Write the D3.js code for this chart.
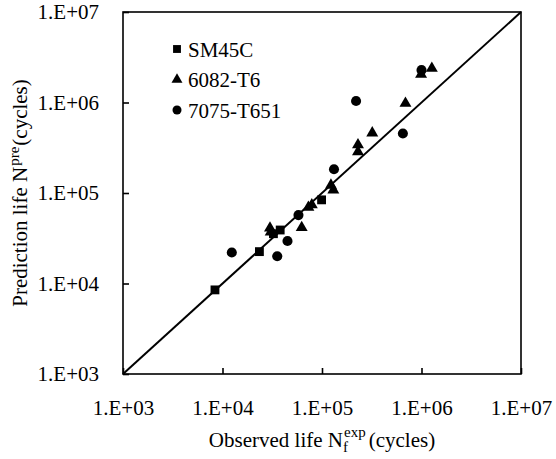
<!DOCTYPE html>
<html>
<head>
<meta charset="utf-8">
<script src="https://cdn.jsdelivr.net/npm/d3@7"></script>
<style>
  body { margin: 0; background: #fff; }
  svg { display: block; }
  text { font-family: "Liberation Serif", "Times New Roman", serif; fill: #000; }
</style>
</head>
<body>
<svg id="chart" width="556" height="459"></svg>
<script>
// observed (x) vs predicted (y) life, cycles
var sm45c = [
  [8.4e3, 8.5e3], [2.35e4, 2.25e4], [3.25e4, 3.55e4], [3.8e4, 3.9e4], [9.9e4, 8.4e4]
];
var al6082 = [
  [3.0e4, 4.1e4], [3.05e4, 3.7e4], [6.25e4, 4.15e4], [7.3e4, 6.95e4], [7.9e4, 7.4e4],
  [1.23e5, 1.22e5], [1.3e5, 1.08e5], [2.3e5, 3.4e5], [2.3e5, 2.85e5], [3.2e5, 4.6e5],
  [6.9e5, 9.8e5], [9.9e5, 2.05e6], [1.27e6, 2.38e6]
];
var al7075 = [
  [1.24e4, 2.2e4], [3.55e4, 2.0e4], [4.5e4, 2.95e4], [5.8e4, 5.7e4], [1.32e5, 1.83e5],
  [2.2e5, 1.04e6], [6.5e5, 4.55e5], [1.0e6, 2.28e6]
];
var seriesNames = ["SM45C", "6082-T6", "7075-T651"];
var tickValues = [1e3, 1e4, 1e5, 1e6, 1e7];

var serif = "'Liberation Serif', 'Times New Roman', serif";
var svg = d3.select("#chart");
var box = {left: 123, top: 12, right: 521, bottom: 374};

var x = d3.scaleLog().domain([1e3, 1e7]).range([box.left, box.right]);
var y = d3.scaleLog().domain([1e3, 1e7]).range([box.bottom, box.top]);

function fmt(d) { return "1.E+" + d3.format("02d")(Math.round(Math.log10(d))); }

// 1:1 line
svg.append("line")
  .attr("x1", x(1e3)).attr("y1", y(1e3))
  .attr("x2", x(1e7)).attr("y2", y(1e7))
  .attr("stroke", "#000").attr("stroke-width", 2);

// frame
svg.append("rect")
  .attr("x", box.left).attr("y", box.top)
  .attr("width", box.right - box.left).attr("height", box.bottom - box.top)
  .attr("fill", "none").attr("stroke", "#000").attr("stroke-width", 1.6);

// axes with inside ticks
var xAxis = svg.append("g").attr("transform", "translate(0," + box.bottom + ")")
  .call(d3.axisBottom(x).tickValues(tickValues).tickFormat(fmt).tickSizeInner(-6).tickSizeOuter(0).tickPadding(26));
var yAxis = svg.append("g").attr("transform", "translate(" + box.left + ",0)")
  .call(d3.axisLeft(y).tickValues(tickValues).tickFormat(fmt).tickSizeInner(-6).tickSizeOuter(0).tickPadding(24));
[xAxis, yAxis].forEach(function(a) {
  a.attr("font-family", serif).attr("font-size", 21);
  a.select(".domain").remove();
  a.selectAll("line").attr("stroke", "#000").attr("stroke-width", 1.6);
  a.selectAll("text").attr("fill", "#000");
});

// markers
var sym = {
  "SM45C": d3.symbol().type(d3.symbolSquare).size(78),
  "6082-T6": d3.symbol().type(d3.symbolTriangle).size(62),
  "7075-T651": d3.symbol().type(d3.symbolCircle).size(80)
};
var sets = [sm45c, al6082, al7075];

sets.forEach(function(data, i) {
  svg.append("g").selectAll("path").data(data).enter().append("path")
    .attr("d", sym[seriesNames[i]]())
    .attr("transform", function(d) { return "translate(" + x(d[0]) + "," + y(d[1]) + ")"; })
    .attr("fill", "#000");
});

// legend
var legend = svg.append("g").attr("transform", "translate(177,49)");
seriesNames.forEach(function(name, i) {
  var row = legend.append("g").attr("transform", "translate(0," + (i * 30.5) + ")");
  row.append("path").attr("d", d3.symbol().type([d3.symbolSquare, d3.symbolTriangle, d3.symbolCircle][i])
    .size([62, 52, 64][i])()).attr("fill", "#000");
  row.append("text").attr("x", 11).attr("y", 7.5).style("font-size", "21px").text(name);
});

// x title: Observed life N_f^exp (cycles)
var xt = svg.append("g");
var a1 = xt.append("text").attr("y", 447).style("font-size", "21px").text("Observed life N");
var w1 = a1.node().getComputedTextLength();
var sub = xt.append("text").attr("x", w1).attr("y", 452).style("font-size", "15px").text("f");
var sup = xt.append("text").attr("x", w1 + 1).attr("y", 437).style("font-size", "15px").text("exp");
var w2 = Math.max(sub.node().getComputedTextLength(), sup.node().getComputedTextLength() + 1);
var a2 = xt.append("text").attr("x", w1 + w2 + 3).attr("y", 447).style("font-size", "21px").text("(cycles)");
var wt = w1 + w2 + 3 + a2.node().getComputedTextLength();
xt.attr("transform", "translate(" + ((box.left + box.right) / 2 - wt / 2) + ",0)");

// y title: Prediction life N^pre(cycles)
var yt = svg.append("g");
var b1 = yt.append("text").attr("y", 0).style("font-size", "21px").text("Prediction life N");
var v1 = b1.node().getComputedTextLength();
var bs = yt.append("text").attr("x", v1 + 1).attr("y", -8).style("font-size", "15px").text("pre");
var v2 = bs.node().getComputedTextLength() + 2;
var b2 = yt.append("text").attr("x", v1 + v2).attr("y", 0).style("font-size", "21px").text("(cycles)");
var vt = v1 + v2 + b2.node().getComputedTextLength();
yt.attr("transform", "translate(27," + ((box.top + box.bottom) / 2 + vt / 2) + ") rotate(-90)");
</script>
</body>
</html>
